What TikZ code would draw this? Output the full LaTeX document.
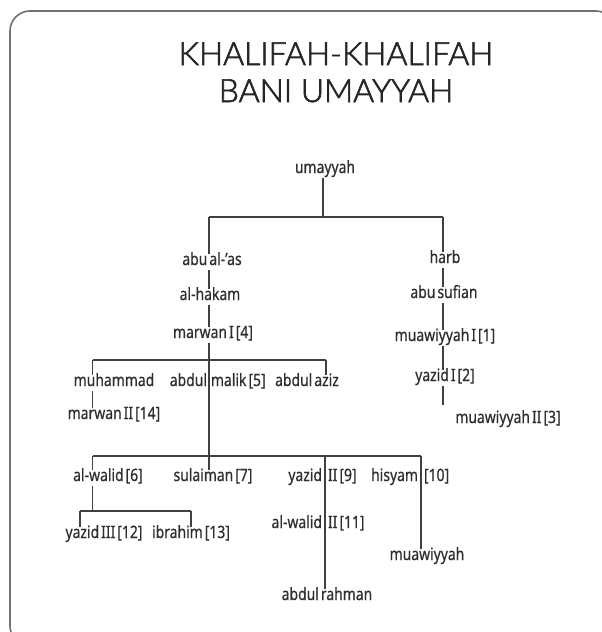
\documentclass[tikz,border=0pt]{standalone}
\usepackage{fontspec}
\setmainfont{Noto Sans}[FakeStretch=0.82, WordSpace=0.55, FakeBold=0.5]
\newfontfamily\titlefont{Lato Light}[FakeBold=2]
\definecolor{txt}{HTML}{2E2E2E}
\definecolor{ttc}{HTML}{262626}
\definecolor{lin}{HTML}{404040}
\definecolor{frm}{HTML}{707070}
\begin{document}
\begin{tikzpicture}[x=1pt,y=-1pt,
  nm/.style={inner xsep=0pt, inner ysep=1pt, text height=10pt, text depth=4pt, text=txt, font=\fontsize{17}{19}\selectfont},
  ttl/.style={anchor=base, inner sep=0pt, text=ttc, font=\titlefont\fontsize{32}{36}\selectfont},
  ln/.style={draw=lin, line width=1.8pt}]
\useasboundingbox (0,0) rectangle (602,632);
\fill[white] (0,0) rectangle (602,632);
\begin{scope}
\clip (0,0) rectangle (602,632);
\draw[frm, line width=1.6pt, rounded corners=20pt] (10,11) rectangle (616,646);
\end{scope}
% title
\node[ttl] (t1) at (336,65) {KHALIFAH-KHALIFAH};
\node[ttl] (t2) at (336,102) {BANI UMAYYAH};
% line x positions and buses
\coordinate (xU) at (323,0);
\coordinate (xA) at (209,0);
\coordinate (xH) at (443,0);
\coordinate (xM) at (92.5,0);
\coordinate (xZ) at (326,0);
\coordinate (xY) at (325,0);
\coordinate (xS) at (421,0);
\coordinate (xI) at (80,0);
\coordinate (xJ) at (191,0);
\coordinate (bus1) at (0,217);
\coordinate (bus2) at (0,360);
\coordinate (bus3) at (0,456);
\coordinate (bus4) at (0,511);
\coordinate (m2end) at (443,405);
% nodes
\node[nm] (umayyah) at (325,170) {umayyah};
\node[nm] (abuas) at (212,262) {abu al-’as};
\node[nm] (hakam) at (210,297) {al-hakam};
\node[nm] (marwan) at (213,335) {marwan I [4]};
\node[nm] (muhammad) at (114,383) {muhammad};
\node[nm] (malik) at (209,383) {\llap{abdul\hspace{2pt}}\rlap{\hspace{2pt}malik [5]}};
\node[nm] (aziz) at (307,383) {abdul aziz};
\node[nm] (marwan2) at (114,416) {marwan II [14]};
\node[nm] (walid) at (108,478) {al-walid [6]};
\node[nm] (sulaiman) at (213,478) {sulaiman [7]};
\node[nm] (yazid2) at (325,478) {\llap{yazid\hspace{3pt}}\rlap{\hspace{3pt}II [9]}};
\node[nm] (hisyam) at (421,478) {\llap{hisyam\hspace{3pt}}\rlap{\hspace{3pt}[10]}};
\node[nm] (yazid3) at (104,535) {yazid III [12]};
\node[nm] (ibrahim) at (191,535) {ibrahim [13]};
\node[nm] (walid2) at (325,525) {\llap{al-walid\hspace{3pt}}\rlap{\hspace{3pt}II [11]}};
\node[nm] (muawiyyah) at (427,557) {muawiyyah};
\node[nm] (rahman) at (327,597) {abdul rahman};
\node[nm] (harb) at (445,260) {harb};
\node[nm] (sufian) at (444,295) {abu sufian};
\node[nm] (muaw1) at (445,338) {muawiyyah I [1]};
\node[nm] (yazid1) at (445,378) {yazid I [2]};
\node[nm] (muaw2) at (508,420) {muawiyyah II [3]};
% connectors
\draw[ln] (umayyah.south -| xU) -- (xU |- bus1);
\draw[ln] (xA |- bus1) -- (xH |- bus1);
\draw[ln] (xA |- bus1) -- (abuas.north -| xA);
\draw[ln] (abuas.south -| xA) -- (hakam.north -| xA);
\draw[ln] (hakam.south -| xA) -- (marwan.north -| xA);
\draw[ln] (marwan.south -| xA) -- (xA |- bus2);
\draw[ln] (xM |- bus2) -- (xZ |- bus2);
\draw[ln] (xM |- bus2) -- (muhammad.north -| xM);
\draw[ln] (xZ |- bus2) -- (aziz.north -| xZ);
\draw[ln] (muhammad.south -| xM) -- (marwan2.north -| xM);
\draw[ln] (xA |- bus2) -- (sulaiman.north -| xA);
\draw[ln] (xM |- bus3) -- (xS |- bus3);
\draw[ln] (xM |- bus3) -- (walid.north -| xM);
\draw[ln] (xY |- bus3) -- (rahman.north -| xY);
\draw[ln] (xS |- bus3) -- (muawiyyah.north -| xS);
\draw[ln] (walid.south -| xM) -- (xM |- bus4);
\draw[ln] (xI |- bus4) -- (xJ |- bus4);
\draw[ln] (xI |- bus4) -- (yazid3.north -| xI);
\draw[ln] (xJ |- bus4) -- (ibrahim.north -| xJ);
\draw[ln] (xH |- bus1) -- (harb.north -| xH);
\draw[ln] (harb.south -| xH) -- (sufian.north -| xH);
\draw[ln] (sufian.south -| xH) -- (muaw1.north -| xH);
\draw[ln] (muaw1.south -| xH) -- (yazid1.north -| xH);
\draw[ln] (yazid1.south -| xH) -- (m2end);
\end{tikzpicture}
\end{document}
